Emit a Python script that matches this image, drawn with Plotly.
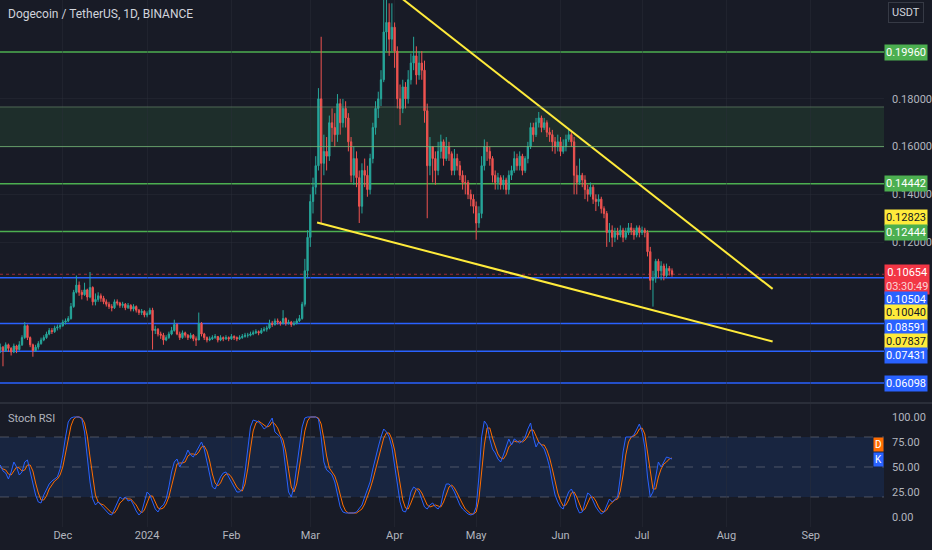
import pandas as pd
import plotly.graph_objects as go

# ---------------- data ----------------
start_date = "2023-11-08"
first_open = 0.0750
closes = [
    0.0760, 0.0745, 0.0770, 0.0755, 0.0740, 0.0765, 0.0750,
    0.0770, 0.0800, 0.0850, 0.0800, 0.0770, 0.0745, 0.0760,
    0.0775, 0.0790, 0.0800, 0.0815, 0.0830, 0.0825, 0.0840,
    0.0845, 0.0850, 0.0865, 0.0870, 0.0880, 0.0930, 0.0990,
    0.1020, 0.0990, 0.0980, 0.1000, 0.0970, 0.1010, 0.0950,
    0.0960, 0.0975, 0.0965, 0.0950, 0.0940, 0.0930, 0.0925,
    0.0950, 0.0945, 0.0935, 0.0940, 0.0925, 0.0935, 0.0920,
    0.0930, 0.0915, 0.0905, 0.0910, 0.0895, 0.0900, 0.0915,
    0.0830, 0.0835, 0.0815, 0.0810, 0.0790, 0.0800, 0.0815,
    0.0830, 0.0855, 0.0815, 0.0800, 0.0820, 0.0810, 0.0800,
    0.0810, 0.0795, 0.0790, 0.0860, 0.0815, 0.0800, 0.0790,
    0.0795, 0.0800, 0.0805, 0.0790, 0.0800, 0.0795, 0.0800,
    0.0795, 0.0805, 0.0800, 0.0795, 0.0800, 0.0805, 0.0810,
    0.0810, 0.0815, 0.0820, 0.0825, 0.0820, 0.0830, 0.0835,
    0.0840, 0.0860, 0.0855, 0.0870, 0.0865, 0.0860, 0.0880,
    0.0860, 0.0865, 0.0855, 0.0860, 0.0870, 0.0880, 0.0940,
    0.1080, 0.1220, 0.1370, 0.1430, 0.1520, 0.1800, 0.1530,
    0.1580, 0.1560, 0.1700, 0.1680, 0.1650, 0.1780, 0.1700,
    0.1760, 0.1720, 0.1620, 0.1480, 0.1550, 0.1470, 0.1350,
    0.1500, 0.1480, 0.1420, 0.1550, 0.1680, 0.1760, 0.1800,
    0.1880, 0.2080, 0.2120, 0.2050, 0.2100, 0.2000, 0.1800,
    0.1760, 0.1850, 0.1800, 0.1880, 0.1950, 0.1980, 0.1900,
    0.1950, 0.1920, 0.1750, 0.1520, 0.1600, 0.1550, 0.1500,
    0.1580, 0.1620, 0.1550, 0.1600, 0.1570, 0.1500, 0.1550,
    0.1520, 0.1480, 0.1450, 0.1450, 0.1400, 0.1380, 0.1350,
    0.1280, 0.1320, 0.1520, 0.1600, 0.1580, 0.1550, 0.1480,
    0.1450, 0.1470, 0.1440, 0.1460, 0.1420, 0.1480, 0.1500,
    0.1550, 0.1520, 0.1560, 0.1500, 0.1550, 0.1600, 0.1680,
    0.1650, 0.1700, 0.1720, 0.1680, 0.1700, 0.1660, 0.1650,
    0.1620, 0.1600, 0.1620, 0.1580, 0.1600, 0.1630, 0.1650,
    0.1620, 0.1480, 0.1450, 0.1480, 0.1460, 0.1420, 0.1400,
    0.1430, 0.1380, 0.1370, 0.1380, 0.1340, 0.1320, 0.1240,
    0.1250, 0.1220, 0.1240, 0.1230, 0.1250, 0.1220, 0.1240,
    0.1260, 0.1250, 0.1230, 0.1260, 0.1240, 0.1250, 0.1240,
    0.1160, 0.1040, 0.1050, 0.1120, 0.1080, 0.1100, 0.1060,
    0.1090, 0.1080, 0.1065,
]
highs = [
    0.0775, 0.0765, 0.0780, 0.0775, 0.0760, 0.0775, 0.0770,
    0.0785, 0.0810, 0.0865, 0.0855, 0.0805, 0.0775, 0.0770,
    0.0785, 0.0800, 0.0810, 0.0825, 0.0840, 0.0840, 0.0850,
    0.0855, 0.0860, 0.0875, 0.0880, 0.0890, 0.0945, 0.1000,
    0.1060, 0.1035, 0.1000, 0.1030, 0.1005, 0.1075, 0.1015,
    0.0985, 0.0990, 0.0985, 0.0975, 0.0960, 0.0950, 0.0940,
    0.0960, 0.0960, 0.0950, 0.0950, 0.0945, 0.0945, 0.0940,
    0.0940, 0.0935, 0.0920, 0.0920, 0.0915, 0.0910, 0.0925,
    0.0925, 0.0850, 0.0840, 0.0825, 0.0820, 0.0810, 0.0825,
    0.0845, 0.0875, 0.0860, 0.0825, 0.0830, 0.0825, 0.0815,
    0.0820, 0.0815, 0.0805, 0.0905, 0.0865, 0.0820, 0.0805,
    0.0805, 0.0810, 0.0815, 0.0805, 0.0810, 0.0805, 0.0810,
    0.0805, 0.0815, 0.0810, 0.0805, 0.0810, 0.0815, 0.0820,
    0.0820, 0.0825, 0.0830, 0.0835, 0.0830, 0.0840, 0.0845,
    0.0850, 0.0875, 0.0870, 0.0880, 0.0880, 0.0870, 0.0915,
    0.0885, 0.0875, 0.0870, 0.0870, 0.0880, 0.0895, 0.0950,
    0.1130, 0.1250, 0.1400, 0.1470, 0.1560, 0.1845, 0.2060,
    0.1650, 0.1640, 0.1730, 0.1760, 0.1740, 0.1820, 0.1800,
    0.1800, 0.1790, 0.1740, 0.1640, 0.1600, 0.1580, 0.1500,
    0.1530, 0.1550, 0.1520, 0.1570, 0.1700, 0.1790, 0.1830,
    0.1920, 0.2280, 0.2260, 0.2200, 0.2200, 0.2120, 0.2020,
    0.1860, 0.1880, 0.1870, 0.1920, 0.1990, 0.2060, 0.2020,
    0.2000, 0.2000, 0.1960, 0.1780, 0.1640, 0.1600, 0.1580,
    0.1620, 0.1650, 0.1630, 0.1640, 0.1620, 0.1580, 0.1590,
    0.1570, 0.1540, 0.1500, 0.1480, 0.1460, 0.1420, 0.1400,
    0.1370, 0.1350, 0.1560, 0.1630, 0.1620, 0.1600, 0.1560,
    0.1500, 0.1490, 0.1480, 0.1480, 0.1470, 0.1500, 0.1520,
    0.1580, 0.1570, 0.1580, 0.1570, 0.1560, 0.1620, 0.1700,
    0.1700, 0.1720, 0.1745, 0.1730, 0.1720, 0.1710, 0.1680,
    0.1670, 0.1640, 0.1650, 0.1640, 0.1630, 0.1650, 0.1670,
    0.1660, 0.1640, 0.1520, 0.1550, 0.1490, 0.1480, 0.1440,
    0.1450, 0.1440, 0.1400, 0.1400, 0.1390, 0.1350, 0.1330,
    0.1280, 0.1270, 0.1260, 0.1260, 0.1270, 0.1260, 0.1260,
    0.1280, 0.1280, 0.1260, 0.1270, 0.1270, 0.1265, 0.1260,
    0.1250, 0.1180, 0.1080, 0.1130, 0.1130, 0.1120, 0.1110,
    0.1110, 0.1100, 0.1090,
]
lows = [
    0.0735, 0.0680, 0.0740, 0.0740, 0.0725, 0.0735, 0.0735,
    0.0745, 0.0765, 0.0795, 0.0790, 0.0760, 0.0720, 0.0740,
    0.0750, 0.0770, 0.0785, 0.0795, 0.0810, 0.0815, 0.0820,
    0.0830, 0.0835, 0.0845, 0.0855, 0.0865, 0.0875, 0.0925,
    0.0985, 0.0975, 0.0960, 0.0975, 0.0955, 0.0965, 0.0935,
    0.0935, 0.0950, 0.0950, 0.0940, 0.0930, 0.0920, 0.0910,
    0.0920, 0.0935, 0.0925, 0.0925, 0.0915, 0.0920, 0.0910,
    0.0910, 0.0905, 0.0895, 0.0895, 0.0885, 0.0885, 0.0895,
    0.0750, 0.0815, 0.0805, 0.0795, 0.0770, 0.0785, 0.0795,
    0.0810, 0.0825, 0.0810, 0.0790, 0.0795, 0.0800, 0.0790,
    0.0795, 0.0785, 0.0765, 0.0790, 0.0805, 0.0790, 0.0780,
    0.0785, 0.0790, 0.0795, 0.0780, 0.0785, 0.0785, 0.0790,
    0.0785, 0.0790, 0.0790, 0.0785, 0.0790, 0.0795, 0.0800,
    0.0800, 0.0805, 0.0810, 0.0815, 0.0810, 0.0815, 0.0825,
    0.0825, 0.0835, 0.0845, 0.0850, 0.0855, 0.0850, 0.0855,
    0.0850, 0.0855, 0.0845, 0.0850, 0.0855, 0.0865, 0.0875,
    0.0930, 0.1050, 0.1180, 0.1320, 0.1400, 0.1500, 0.1280,
    0.1480, 0.1500, 0.1540, 0.1620, 0.1600, 0.1620, 0.1650,
    0.1680, 0.1680, 0.1580, 0.1450, 0.1440, 0.1430, 0.1280,
    0.1320, 0.1430, 0.1390, 0.1400, 0.1530, 0.1650, 0.1720,
    0.1770, 0.1870, 0.2000, 0.1980, 0.2000, 0.1930, 0.1760,
    0.1690, 0.1740, 0.1760, 0.1780, 0.1860, 0.1920, 0.1860,
    0.1880, 0.1880, 0.1700, 0.1300, 0.1480, 0.1450, 0.1440,
    0.1480, 0.1550, 0.1520, 0.1540, 0.1540, 0.1480, 0.1480,
    0.1500, 0.1460, 0.1420, 0.1400, 0.1380, 0.1350, 0.1320,
    0.1210, 0.1260, 0.1300, 0.1500, 0.1540, 0.1520, 0.1450,
    0.1420, 0.1420, 0.1420, 0.1420, 0.1400, 0.1400, 0.1460,
    0.1490, 0.1500, 0.1500, 0.1480, 0.1490, 0.1530, 0.1590,
    0.1620, 0.1640, 0.1680, 0.1660, 0.1670, 0.1640, 0.1620,
    0.1580, 0.1570, 0.1580, 0.1560, 0.1570, 0.1580, 0.1620,
    0.1600, 0.1400, 0.1400, 0.1440, 0.1430, 0.1380, 0.1370,
    0.1390, 0.1360, 0.1330, 0.1350, 0.1320, 0.1300, 0.1180,
    0.1200, 0.1180, 0.1200, 0.1210, 0.1220, 0.1200, 0.1210,
    0.1230, 0.1230, 0.1210, 0.1220, 0.1220, 0.1230, 0.1220,
    0.1140, 0.1000, 0.0930, 0.1030, 0.1050, 0.1040, 0.1040,
    0.1050, 0.1060, 0.1055,
]
stoch_k = [
    52, 46, 44, 38, 45, 55, 50, 42, 45, 55,
    57, 45, 35, 22, 15, 14, 22, 28, 33, 36,
    38, 40, 48, 62, 80, 95, 99, 100, 100, 100,
    98, 85, 60, 35, 18, 12, 15, 12, 10, 6,
    3, 2, 8, 14, 20, 18, 20, 16, 17, 12,
    6, 2, 5, 15, 25, 22, 15, 8, 5, 10,
    12, 18, 30, 45, 55, 58, 50, 55, 60, 67,
    62, 60, 65, 70, 75, 68, 55, 45, 30, 28,
    35, 40, 44, 45, 40, 35, 30, 25, 25, 28,
    45, 70, 90, 97, 96, 95, 92, 88, 90, 95,
    99, 85, 82, 80, 70, 45, 25, 20, 30, 50,
    70, 90, 99, 100, 100, 100, 100, 98, 80, 55,
    47, 45, 42, 35, 22, 10, 5, 4, 4, 4,
    4, 5, 8, 12, 20, 28, 35, 48, 60, 70,
    80, 88, 85, 80, 70, 50, 30, 15, 6, 5,
    12, 25, 30, 28, 25, 18, 10, 8, 12, 14,
    10, 8, 12, 25, 33, 33, 30, 25, 18, 12,
    8, 5, 3, 2, 3, 10, 40, 80, 96, 92,
    78, 68, 64, 58, 55, 62, 70, 78, 72, 78,
    76, 74, 76, 80, 88, 94, 80, 70, 75, 72,
    68, 60, 50, 35, 22, 15, 10, 8, 18, 25,
    28, 22, 10, 4, 5, 15, 24, 22, 15, 10,
    6, 3, 5, 12, 18, 15, 18, 20, 40, 65,
    80, 80, 80, 82, 88, 93, 85, 70, 40, 20,
    25, 40, 55, 50, 55, 60, 59, 58,
]
stoch_d = [
    50, 48, 47, 43, 42, 46, 50, 49, 46, 47,
    52, 52, 46, 34, 24, 17, 17, 21, 28, 32,
    36, 38, 42, 50, 63, 79, 91, 98, 100, 100,
    99, 94, 81, 60, 38, 22, 15, 13, 12, 9,
    6, 4, 4, 8, 14, 17, 19, 18, 18, 15,
    12, 7, 4, 7, 15, 21, 21, 15, 9, 8,
    9, 13, 20, 31, 43, 53, 54, 54, 55, 61,
    63, 63, 62, 65, 70, 71, 66, 56, 43, 34,
    31, 34, 40, 43, 43, 40, 35, 30, 27, 26,
    33, 48, 68, 86, 94, 96, 94, 92, 90, 91,
    95, 93, 89, 82, 77, 65, 47, 30, 25, 33,
    50, 70, 86, 96, 100, 100, 100, 99, 93, 78,
    61, 49, 45, 41, 33, 22, 12, 6, 4, 4,
    4, 4, 6, 8, 13, 20, 28, 37, 48, 59,
    70, 79, 84, 84, 78, 67, 50, 32, 17, 9,
    8, 14, 22, 28, 28, 24, 18, 12, 10, 11,
    12, 11, 10, 15, 23, 30, 32, 29, 24, 18,
    13, 8, 5, 3, 3, 5, 18, 43, 72, 89,
    89, 79, 70, 63, 59, 58, 62, 70, 73, 76,
    75, 76, 75, 77, 81, 87, 87, 81, 75, 72,
    72, 67, 59, 48, 36, 24, 16, 11, 12, 17,
    24, 25, 20, 12, 6, 8, 15, 20, 20, 16,
    10, 6, 5, 7, 12, 15, 17, 18, 26, 42,
    62, 75, 80, 81, 83, 88, 89, 83, 65, 43,
    28, 28, 40, 48, 53, 55, 58, 59,
]

green_levels = [0.19960, 0.14442, 0.12444]
blue_levels = [0.10504, 0.08591, 0.07431, 0.06098]
zone_bounds = [0.1600, 0.1766]
last_price = 0.10654
countdown = "03:30:49"
upper_trend_dates = ["2024-03-28", "2024-08-18"]
upper_trend_prices = [0.2280, 0.10040]
lower_trend_dates = ["2024-03-03 12:00", "2024-08-18"]
lower_trend_prices = [0.12823, 0.07837]
month_ticks = ["2023-12-01", "2024-01-01", "2024-02-01", "2024-03-01", "2024-04-01",
               "2024-05-01", "2024-06-01", "2024-07-01", "2024-08-01", "2024-09-01"]
month_labels = ["Dec", "2024", "Feb", "Mar", "Apr", "May", "Jun", "Jul", "Aug", "Sep"]
price_ticks = [0.12, 0.14, 0.16, 0.18]
stoch_ticks = [0, 25, 50, 75, 100]
stoch_bands = [20, 50, 80]

# ---------------- styling ----------------
BG = "#181b26"
TXT = "#b2b5be"
GREEN = "#4caf50"
BLUE = "#2962ff"
YELLOW = "#ffeb3b"
RED = "#f23645"
FONT = "Roboto"

dates = pd.date_range(start_date, periods=len(closes), freq="D")
opens = [first_open] + closes[:-1]

fig = go.Figure()

fig.add_trace(go.Candlestick(
    x=dates, open=opens, high=highs, low=lows, close=closes,
    increasing=dict(line=dict(color="#26a69a", width=1), fillcolor="#26a69a"),
    decreasing=dict(line=dict(color="#ef5350", width=1), fillcolor="#ef5350"),
    whiskerwidth=0, showlegend=False, hoverinfo="skip",
    xaxis="x", yaxis="y",
))

fig.add_trace(go.Scatter(x=upper_trend_dates, y=upper_trend_prices, mode="lines",
                         line=dict(color=YELLOW, width=2), showlegend=False,
                         xaxis="x", yaxis="y", hoverinfo="skip"))
fig.add_trace(go.Scatter(x=lower_trend_dates, y=lower_trend_prices, mode="lines",
                         line=dict(color=YELLOW, width=2), showlegend=False,
                         xaxis="x", yaxis="y", hoverinfo="skip"))

fig.add_trace(go.Scatter(x=dates, y=stoch_d, mode="lines",
                         line=dict(color="#ff6d00", width=1), showlegend=False,
                         xaxis="x2", yaxis="y2", hoverinfo="skip"))
fig.add_trace(go.Scatter(x=dates, y=stoch_k, mode="lines",
                         line=dict(color=BLUE, width=1), showlegend=False,
                         xaxis="x2", yaxis="y2", hoverinfo="skip"))

shapes = []
# green zone
shapes.append(dict(type="rect", xref="x domain", yref="y", x0=0, x1=1,
                   y0=zone_bounds[0], y1=zone_bounds[1],
                   fillcolor="rgba(76,175,80,0.13)", line=dict(width=0), layer="below"))
shapes.append(dict(type="line", xref="x domain", yref="y", x0=0, x1=1,
                   y0=zone_bounds[1], y1=zone_bounds[1],
                   line=dict(color="rgba(120,160,120,0.55)", width=1)))
shapes.append(dict(type="line", xref="x domain", yref="y", x0=0, x1=1,
                   y0=zone_bounds[0], y1=zone_bounds[0],
                   line=dict(color="rgba(120,190,120,0.8)", width=1)))
for lv in green_levels:
    shapes.append(dict(type="line", xref="x domain", yref="y", x0=0, x1=1, y0=lv, y1=lv,
                       line=dict(color=GREEN, width=1.5), layer="below"))
for lv in blue_levels:
    shapes.append(dict(type="line", xref="x domain", yref="y", x0=0, x1=1, y0=lv, y1=lv,
                       line=dict(color=BLUE, width=1.5), layer="below"))
shapes.append(dict(type="line", xref="x domain", yref="y", x0=0, x1=1,
                   y0=last_price, y1=last_price,
                   line=dict(color="rgba(242,54,69,0.6)", width=1, dash="dot"), layer="below"))
# stoch band
shapes.append(dict(type="rect", xref="x2 domain", yref="y2", x0=0, x1=1,
                   y0=stoch_bands[0], y1=stoch_bands[2],
                   fillcolor="rgba(33,110,243,0.13)", line=dict(width=0), layer="below"))
for b in stoch_bands:
    shapes.append(dict(type="line", xref="x2 domain", yref="y2", x0=0, x1=1, y0=b, y1=b,
                       line=dict(color="rgba(120,123,134,0.55)", width=1, dash="dash"),
                       layer="below"))
# pane separator
shapes.append(dict(type="line", xref="paper", yref="paper", x0=0, x1=1.06,
                   y0=0.2353, y1=0.2353, line=dict(color="#2a2e39", width=2)))

annotations = []


def price_label(price, text, bg, fg, yshift=0):
    annotations.append(dict(
        xref="paper", yref="y", x=1, y=price, xanchor="left", yanchor="middle",
        text=text, showarrow=False, bgcolor=bg, borderpad=1, yshift=yshift,
        font=dict(family=FONT, size=11, color=fg)))


price_label(green_levels[0], "0.19960", GREEN, "white")
price_label(green_levels[1], "0.14442", GREEN, "white")
price_label(lower_trend_prices[0], "0.12823", YELLOW, "#131722", 5)
price_label(green_levels[2], "0.12444", GREEN, "white", -1)
price_label(last_price, f"0.10654<br><span style='color:#fbd3d6'>{countdown}</span>",
            RED, "white", -5)
price_label(blue_levels[0], "0.10504", BLUE, "white", -22)
price_label(upper_trend_prices[1], "0.10040", YELLOW, "#131722", -24)
price_label(blue_levels[1], "0.08591", BLUE, "white", -3.5)
price_label(lower_trend_prices[1], "0.07837", YELLOW, "#131722", 0)
price_label(blue_levels[2], "0.07431", BLUE, "white", -4)
price_label(blue_levels[3], "0.06098", BLUE, "white", 0)

annotations.append(dict(xref="paper", yref="paper", x=0.0068, y=0.9735, xanchor="left",
                        yanchor="middle", text="Dogecoin / TetherUS, 1D, BINANCE",
                        showarrow=False, font=dict(family=FONT, size=12, color="#d1d4dc")))
annotations.append(dict(xref="paper", yref="paper", x=1.0045, y=0.9754, xanchor="left",
                        yanchor="middle", text="USDT", showarrow=False,
                        bordercolor="#363a45", borderwidth=1, borderpad=3, bgcolor=BG,
                        font=dict(family=FONT, size=11, color="#d1d4dc")))
annotations.append(dict(xref="paper", yref="paper", x=0.0068, y=0.2068, xanchor="left",
                        yanchor="middle", text="Stoch RSI", showarrow=False,
                        font=dict(family=FONT, size=11, color=TXT)))
annotations.append(dict(xref="paper", yref="y2", x=1, y=72, xanchor="right",
                        yanchor="middle", text="D", showarrow=False, bgcolor="#ff6d00",
                        borderpad=1, font=dict(family=FONT, size=10, color="white")))
annotations.append(dict(xref="paper", yref="y2", x=1, y=57, xanchor="right",
                        yanchor="middle", text="K", showarrow=False, bgcolor=BLUE,
                        borderpad=1, font=dict(family=FONT, size=10, color="white")))

x_range = ["2023-11-07 21:49", "2024-09-27 22:48"]
grid = "rgba(42,46,57,0.45)"

fig.update_layout(
    width=932, height=550,
    margin=dict(l=0, r=48, t=0, b=23),
    paper_bgcolor=BG, plot_bgcolor=BG,
    showlegend=False,
    font=dict(family=FONT, size=11, color=TXT),
    xaxis=dict(domain=[0, 1], range=x_range, anchor="y", showticklabels=False,
               tickvals=month_ticks, showgrid=True, gridcolor=grid, zeroline=False,
               rangeslider=dict(visible=False), showline=False, matches="x2"),
    yaxis=dict(domain=[0.2372, 1], range=[0.05304, 0.2214], side="right",
               tickvals=price_ticks, ticktext=[f"{v:.5f}" for v in price_ticks],
               showgrid=True, gridcolor=grid, zeroline=False, ticks="",
               ticklabelstandoff=7, tickfont=dict(size=11, color=TXT)),
    xaxis2=dict(domain=[0, 1], range=x_range, anchor="y2", tickvals=month_ticks,
                ticktext=month_labels, showgrid=True, gridcolor=grid, zeroline=False,
                ticks="", tickfont=dict(size=11, color=TXT)),
    yaxis2=dict(domain=[0, 0.2334], range=[-10, 113], side="right",
                tickvals=stoch_ticks, ticktext=[f"{v:.2f}" for v in stoch_ticks],
                showgrid=False, zeroline=False, ticks="", ticklabelstandoff=7,
                tickfont=dict(size=11, color=TXT)),
    shapes=shapes,
    annotations=annotations,
)

fig.write_html(
    "out.html",
    config={"displayModeBar": False},
    post_script="document.body.style.margin='0';document.body.style.overflow='hidden';"
                "document.body.style.background='" + BG + "';",
)
